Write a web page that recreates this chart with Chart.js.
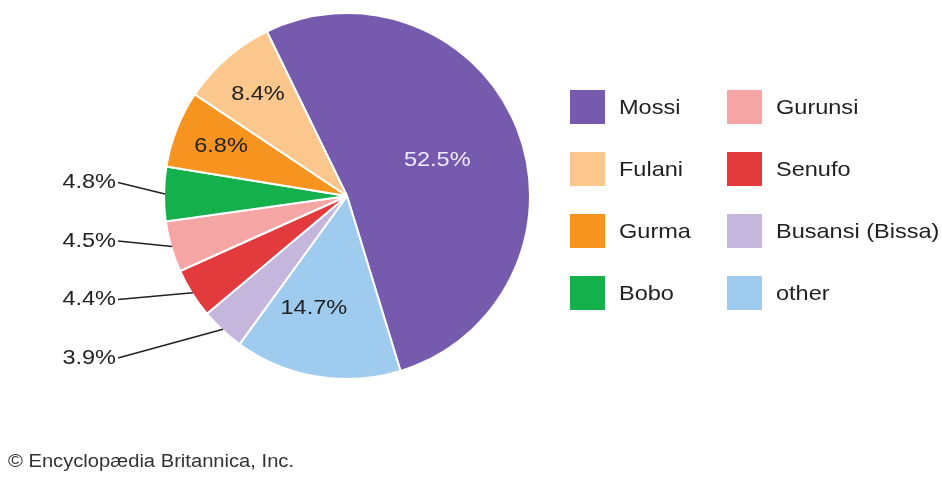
<!DOCTYPE html>
<html>
<head>
<meta charset="utf-8">
<script src="https://cdn.jsdelivr.net/npm/chart.js@4"></script>
<style>
  html, body { margin: 0; padding: 0; background: #fff; }
  body { width: 942px; height: 491px; position: relative; overflow: hidden; font-family: 'Liberation Sans', Arial, sans-serif; color: #222; }
  #wrap { position: absolute; left: 0; top: 0; width: 942px; height: 491px; }
  .legend { position: absolute; left: 570px; top: 90px; display: grid; grid-template-columns: 157px 210px; row-gap: 28px; }
  .legend .item { display: flex; align-items: center; height: 34px; font-size: 21px; }
  .legend .box { width: 35px; height: 34px; margin-right: 14px; flex: none; }
  .legend .txt { display: inline-block; transform: scaleX(1.12); transform-origin: left center; white-space: nowrap; }
  .credit { position: absolute; left: 8px; top: 451px; font-size: 18px; color: #333; transform: scaleX(1.12); transform-origin: left center; white-space: nowrap; }
</style>
</head>
<body>
<div id="wrap"><canvas id="pie" width="942" height="491"></canvas></div>
<div class="legend" id="legend"></div>
<div class="credit">© Encyclopædia Britannica, Inc.</div>
<script>
/* ===== DATA ===== */
const groups = ['Mossi', 'other', 'Busansi (Bissa)', 'Senufo', 'Gurunsi', 'Bobo', 'Gurma', 'Fulani'];
const shares = [52.5, 14.7, 3.9, 4.4, 4.5, 4.8, 6.8, 8.4];
const colors = ['#765aae', '#9fcbee', '#c5b6de', '#e23a3d', '#f5a5a4', '#14b04c', '#f7931f', '#fcc78c'];
// legend runs down the first column, then the second
const legendOrder = ['Mossi', 'Gurunsi', 'Fulani', 'Senufo', 'Gurma', 'Busansi (Bissa)', 'Bobo', 'other'];

/* ===== LEGEND ===== */
const legendEl = document.getElementById('legend');
legendOrder.forEach(name => {
  const i = groups.indexOf(name);
  const item = document.createElement('div');
  item.className = 'item';
  item.innerHTML = `<span class="box" style="background:${colors[i]}"></span><span class="txt">${name}</span>`;
  legendEl.appendChild(item);
});

/* ===== SLICE LABELS ===== */
const sliceLabels = {
  id: 'sliceLabels',
  afterDatasetsDraw(chart, args, opts) {
    const { ctx } = chart;
    const arcs = chart.getDatasetMeta(0).data;
    const put = (text, x, y, align) => {
      ctx.save();
      ctx.translate(x, y);
      ctx.scale(opts.stretch, 1);
      ctx.textAlign = align;
      ctx.fillText(text, 0, 0);
      ctx.restore();
    };
    ctx.save();
    ctx.font = opts.font;
    ctx.textBaseline = 'middle';
    let outside = 0;
    arcs.forEach((arc, i) => {
      const v = shares[i];
      const text = v.toFixed(1) + '%';
      const { x, y, startAngle, endAngle, outerRadius } = arc.getProps(['x', 'y', 'startAngle', 'endAngle', 'outerRadius'], true);
      const mid = (startAngle + endAngle) / 2;
      if (v >= 6) {
        const f = v > 50 ? 0.53 : (v > 10 ? 0.64 : 0.74);
        const a = mid + (opts.nudge[i] || 0) * Math.PI / 180;
        ctx.fillStyle = v > 50 ? '#efe9f8' : '#222';
        put(text, x + Math.cos(a) * outerRadius * f, y + Math.sin(a) * outerRadius * f, 'center');
      } else {
        // small slices: label on the left, leader line to the rim
        const ex = x + Math.cos(mid) * (outerRadius - 1);
        const ey = y + Math.sin(mid) * (outerRadius - 1);
        const ly = opts.bottomY - outside * opts.step;
        outside++;
        ctx.strokeStyle = '#222';
        ctx.lineWidth = 1.6;
        ctx.beginPath();
        ctx.moveTo(opts.labelX + 2, ly);
        ctx.lineTo(ex, ey);
        ctx.stroke();
        ctx.fillStyle = '#222';
        put(text, opts.labelX, ly, 'right');
      }
    });
    ctx.restore();
  }
};

/* ===== PIE ===== */
new Chart(document.getElementById('pie'), {
  type: 'pie',
  data: {
    labels: groups,
    datasets: [{ data: shares, backgroundColor: colors, borderColor: '#fff', borderWidth: 2 }]
  },
  options: {
    responsive: false,
    animation: false,
    rotation: -26,
    layout: { padding: { left: 163, top: 12, right: 411, bottom: 111 } },
    plugins: {
      legend: { display: false },
      tooltip: { enabled: false },
      sliceLabels: {
        font: '21px "Liberation Sans", Arial, sans-serif',
        stretch: 1.12, labelX: 116, bottomY: 358, step: 58.5,
        nudge: { 1: 7 }
      }
    }
  },
  plugins: [sliceLabels]
});
</script>
</body>
</html>
